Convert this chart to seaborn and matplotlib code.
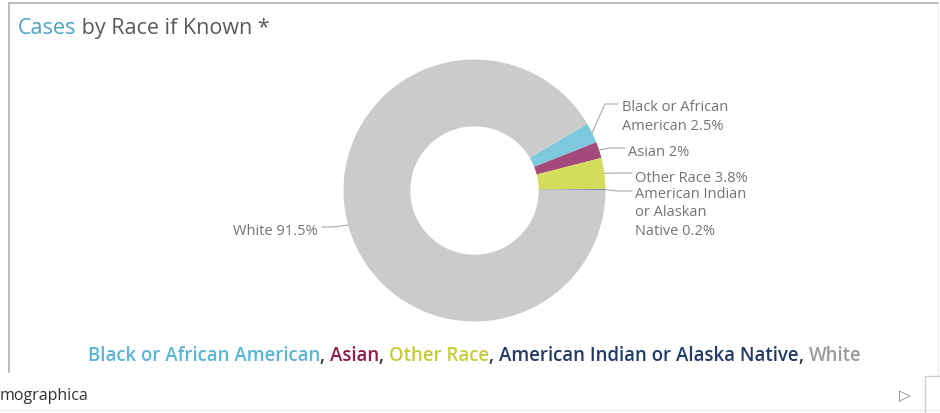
import matplotlib.pyplot as plt
import seaborn as sns
import numpy as np
from matplotlib.offsetbox import TextArea, HPacker, AnnotationBbox

# data
races = ['Black or African American', 'Asian', 'Other Race',
         'American Indian or Alaska Native', 'White']
shares = [2.5, 2.0, 3.8, 0.2, 91.5]
slice_labels = ['Black or African\nAmerican 2.5%', 'Asian 2%', 'Other Race 3.8%',
                'American Indian\nor Alaskan\nNative 0.2%', 'White 91.5%']
slice_colors = ['#7cc8dc', '#a4497b', '#d4dc5c', '#8392b0', '#cbcbcb']
legend_colors = ['#5bb5d5', '#8c1c4c', '#c5cc3a', '#233a66', '#9a9a9a']

W, H = 940, 414
CX, CY, R = 474.5, H - 191.5, 131
FONT = ['Open Sans', 'DejaVu Sans']

# label layout: (elbow x, elbow y, end x, text x, text y, ha) in pixels from top-left
label_layout = [
    (605, 105, 618, 622, 117, 'left'),
    (610, 149, 625, 628, 152, 'left'),
    (617, 174, 632, 635, 178, 'left'),
    (618, 192, 632, 635, 213, 'left'),
    (333, 228, 322, 318, 232, 'right'),
]

sns.set_theme(style="white")
plt.rcParams['font.family'] = FONT

fig = plt.figure(figsize=(W / 100, H / 100), dpi=100)
ax = fig.add_axes([0, 0, 1, 1])

start = 360 * sum(shares[:-1]) / 100
wedges, _ = ax.pie(shares, colors=slice_colors, startangle=start, counterclock=False,
                   radius=R, center=(CX, CY), wedgeprops=dict(width=R * 0.51, linewidth=0))
ax.set_xlim(0, W)
ax.set_ylim(0, H)
ax.set_aspect('auto')
ax.axis('off')

# leader lines and labels
for w, lab, (ex, ey, endx, tx, ty, ha) in zip(wedges, slice_labels, label_layout):
    mid = np.deg2rad((w.theta1 + w.theta2) / 2)
    sx, sy = CX + R * np.cos(mid), CY + R * np.sin(mid)
    ax.plot([sx, ex, endx], [sy, H - ey, H - ey], color='#aaaaaa', lw=0.8)
    ax.text(tx, H - ty, lab, ha=ha, va='center', fontsize=10.5, color='#747474',
            linespacing=1.32)


def color_line(parts, xy, align, size, weight='normal'):
    boxes = [TextArea(t, textprops=dict(color=c, fontsize=size, fontweight=weight,
                                        family=FONT)) for t, c in parts]
    pack = HPacker(children=boxes, align='baseline', pad=0, sep=0)
    ab = AnnotationBbox(pack, xy, xycoords='data', frameon=False, box_alignment=align, pad=0)
    ax.add_artist(ab)


# title
color_line([('Cases', '#4ba3c7'), (' by Race if Known *', '#5a5a5a')], (18, H - 28), (0, 0.5), 15.5)

# legend line
parts = []
for i, (name, col) in enumerate(zip(races, legend_colors)):
    parts.append((name, col))
    if i < len(races) - 1:
        parts.append((', ', '#333333'))
color_line(parts, (CX, H - 356), (0.5, 0.5), 13.4, weight='semibold')

# panel frame
ax.plot([9, 938], [H - 4, H - 4], color='#bdbdbd', lw=1.5)
ax.plot([9, 9], [H - 4, H - 373], color='#bdbdbd', lw=1.5)
ax.plot([938, 938], [H - 4, H - 377], color='#eeeeee', lw=1)
ax.plot([0, W], [H - 411, H - 411], color='#eeeeee', lw=1)
ax.plot([925, 925, W], [0, H - 377, H - 377], color='#d0d0d0', lw=1)
ax.text(0, H - 396, 'mographica', ha='left', va='center', fontsize=11.5, color='#333333')
ax.text(905, H - 396, '\u25b7', ha='center', va='center', fontsize=11, color='#888888',
        family='DejaVu Sans')

fig.savefig('out.png', dpi=100)
